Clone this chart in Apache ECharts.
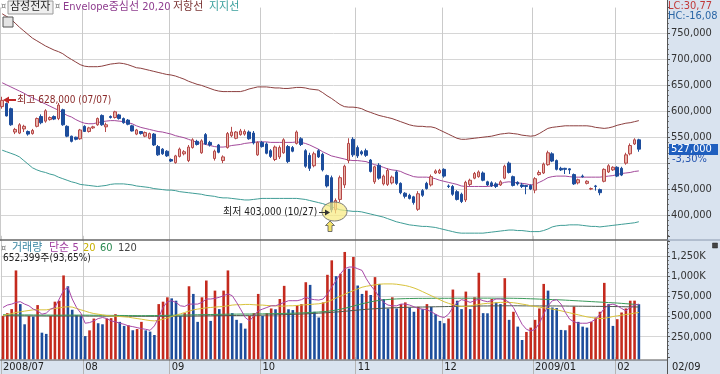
<!DOCTYPE html>
<html><head><meta charset="utf-8">
<script src="https://cdn.jsdelivr.net/npm/echarts@6.0.0/dist/echarts.min.js"></script>
<style>html,body{margin:0;padding:0;background:#fff}#c{width:720px;height:374px}</style>
</head><body><div id="c"></div>
<script>
// ---------- DATA ----------
const monthKeys = ['2008/07','2008/08','2008/09','2008/10','2008/11','2008/12','2009/01','2009/02'];
const tickLabels = ['2008/07','08','09','10','11','12','2009/01','02'];
const julDays = [7,8,9,10,11,14,15,16,17,18,21,22,23,24,25,28,29,30,31];
const augDays = [1,4,5,6,7,8,11,12,13,14,18,19,20,21,22,25,26,27,28,29];
const sepDays = [1,2,3,4,5,8,9,10,11,12,16,17,18,19,22,23,24,25,26,29,30];
const octDays = [1,2,6,7,8,9,10,13,14,15,16,17,20,21,22,23,24,27,28,29,30,31];
const novDays = [3,4,5,6,7,10,11,12,13,14,17,18,19,20,21,24,25,26,27,28];
const decDays = [1,2,3,4,5,8,9,10,11,12,15,16,17,18,19,22,23,24,26,29,30];
const janDays = [2,5,6,7,8,9,12,13,14,15,16,19,20,21,22,23,28,29,30];
const febDays = [2,3,4,5,6,9];
const emptySlots = 6;

// prices in thousand won
const openK = [609,615,605,560,558,566,561,557,571,590,581,584,590,586,603,571,552,550,547,
571,561,568,574,592,570,590,588,593,586,583,572,556,561,552,548,556,532,527,523,
507,501,513,518,505,530,542,520,555,540,509,535,505,530,553,548,555,556,560,558,516,
540,537,524,507,512,520,532,530,538,547,524,515,495,524,517,476,472,410,430,458,505,546,
530,522,524,506,464,496,460,459,462,483,461,442,438,435,411,447,461,458,481,481,
488,456,455,445,440,429,459,471,474,481,464,462,460,458,471,500,474,463,458,457,457,
448,478,481,497,518,505,490,490,489,478,462,475,461,450,456,449,465,483,487,
492,490,500,518,537,545];
const closeK = [621,591,574,565,574,571,556,563,586,578,601,588,585,612,574,552,542,546,564,
561,568,570,586,574,574,588,599,586,578,575,562,564,557,559,557,535,516,518,514,
504,514,527,522,531,545,536,543,537,535,523,521,512,557,560,560,562,561,547,539,540,
532,519,513,531,530,545,503,523,560,536,494,490,518,512,487,456,410,428,472,494,538,516,
514,518,515,484,493,471,475,486,473,461,443,436,432,424,441,438,451,474,485,486,
475,455,440,430,426,463,467,480,483,467,458,456,455,464,494,482,457,460,455,455,450,
470,482,498,520,504,488,487,488,487,460,468,474,465,451,455,443,488,495,492,
475,477,516,534,545,527];
const highK = [628,617,607,568,577,574,563,566,588,594,604,590,592,616,605,573,553,551,566,
573,570,572,588,594,578,592,601,595,588,585,574,566,562,561,559,558,535,529,525,
509,516,530,525,535,548,545,546,558,543,526,537,515,560,570,562,566,565,563,562,542,
543,540,527,534,534,548,535,533,563,550,527,520,522,527,520,478,476,432,476,497,548,550,
534,525,528,508,495,500,478,490,476,486,463,444,441,437,446,450,464,478,488,489,
490,459,458,448,443,466,470,483,486,484,466,465,463,467,497,503,476,465,462,458,459,
473,486,501,524,521,507,493,491,490,480,470,478,467,453,458,451,490,498,494,
494,493,520,538,548,547];
const lowK = [605,590,572,556,556,560,553,555,569,575,578,582,583,583,572,550,540,544,545,
560,559,566,572,572,560,586,586,584,576,573,561,554,555,550,546,533,514,516,512,
502,499,511,515,502,528,534,518,535,532,505,519,500,528,550,546,553,553,545,536,514,
530,517,510,504,508,518,500,521,536,533,491,485,492,510,484,453,405,403,425,452,500,512,
510,515,512,482,460,468,457,456,459,458,440,432,430,420,408,435,449,455,479,479,
472,452,437,428,423,425,456,469,472,465,456,454,452,456,469,480,455,457,452,440,448,
442,476,479,495,502,486,485,479,479,458,459,472,459,448,447,438,463,481,485,
473,475,497,515,535,522];

// envelope lines (thousand won)
const envCenterK = [655,651,647,643,639,635,630,626,622,618,614,610,606,602,597,592,589,584,580,
577,576,576,578,580,581,582,582,581,580,578,576,572,569,567,565,563,561,560,558,
556,553,551,549,546,543,540,538,536,534,532,531,531,532,534,535,536,538,539,540,541,
541,541,540,540,540,540,540,540,541,540,538,535,531,527,522,518,514,512,510,508,506,505,
505,504,503,500,497,495,492,489,487,486,484,480,477,474,473,473,473,472,470,467,
465,463,461,459,456,455,455,455,455,455,455,456,458,460,463,464,463,462,461,460,458,
459,463,467,472,474,475,475,475,474,473,473,473,473,473,473,473,474,475,476,
478,480,481,482,484,485];
const envUpperK = [788,783,778,770,762,755,748,741,736,731,726,722,718,715,711,705,700,695,690,
687,686,686,686,687,689,691,692,693,692,690,687,684,683,681,679,677,675,673,671,
670,668,665,662,658,655,652,650,647,644,641,639,638,638,638,638,638,640,643,645,647,
647,647,646,645,645,644,644,645,646,646,645,643,642,641,636,630,625,619,613,609,608,608,
607,605,601,598,595,592,590,588,586,583,580,577,574,572,571,571,570,570,568,564,
560,556,552,548,546,546,547,548,549,550,551,552,554,556,557,558,557,556,554,553,552,
553,557,562,567,569,570,571,572,572,572,572,572,572,571,569,568,567,568,570,
573,575,577,578,580,582];
const envLowerK = [525,522,519,516,512,505,498,491,487,484,482,479,477,473,470,467,464,462,459,
458,457,456,455,456,457,459,460,460,460,459,458,456,455,454,453,451,450,449,448,
448,447,445,444,443,442,441,440,438,437,436,434,433,433,432,431,430,429,429,430,431,
432,432,432,432,432,432,432,432,432,431,430,428,426,424,422,419,416,413,410,409,408,407,
407,406,404,402,400,398,396,393,390,387,385,383,381,380,379,378,378,377,376,374,
372,370,368,366,365,365,365,365,365,365,366,367,368,369,370,371,371,370,370,369,368,
368,368,370,373,377,379,380,380,381,381,381,380,379,378,378,377,378,379,380,
381,382,383,384,385,387,389].slice(0,148);

// volume (thousand shares)
const volumeK = [508,542,592,1071,654,404,508,500,642,300,285,508,684,696,1009,875,584,517,510,
258,329,475,417,404,475,480,529,434,384,392,330,345,434,329,313,271,654,684,738,
725,696,508,542,875,780,434,738,946,446,821,592,821,1071,542,459,417,350,508,542,780,
508,542,600,590,717,880,590,580,642,654,925,892,559,488,675,1017,1196,1000,1030,1300,1092,1238,
884,780,821,767,988,904,717,600,738,600,654,675,612,559,621,592,654,621,529,446,
417,475,834,696,592,809,592,738,1042,542,540,717,675,654,975,459,559,375,209,309,363,
459,600,904,821,612,605,334,330,392,625,434,375,363,434,488,559,917,654,384,
467,550,600,696,696.635,652.399];
const volMa5K = [612,642,654,675,684,654,633,592,571,529,542,592,612,717,821,863,717,612,542,
417,425,446,475,488,475,446,434,417,404,384,375,363,350,342,329,384,488,612,684,
696,675,633,625,654,654,654,675,717,717,725,738,758,780,758,675,584,488,446,508,571,
592,612,633,633,654,675,696,696,696,709,738,717,709,704,717,780,863,946,1029,1092,1113,1113,
1092,1071,967,884,821,738,675,642,633,633,654,654,642,621,600,592,584,559,529,500,
488,529,612,675,709,696,675,696,717,696,684,696,717,717,709,675,612,508,404,342,321,
342,417,529,633,696,709,654,550,467,434,417,417,417,434,467,529,600,642,654,
633,600,571,612,642,654];
const volMa20K = [508,525,537,550,558,567,575,583,583,583,583,592,600,608,617,621,617,600,583,
567,550,537,529,521,512,508,504,500,496,492,483,475,467,458,450,446,454,467,483,
500,517,533,550,567,583,592,600,608,612,617,621,625,633,642,646,646,650,650,646,642,
642,637,633,633,629,629,633,633,637,642,646,650,654,658,667,683,704,729,754,775,800,821,
842,863,875,884,892,900,904,904,904,900,892,884,871,854,833,808,783,758,733,708,
683,663,646,633,625,625,633,642,650,658,663,667,671,675,675,675,671,663,654,646,633,
625,617,608,600,592,583,571,558,546,533,521,508,496,488,479,475,479,488,500,
508,517,525,533,542,550];
const volMa60K = [522,522,521,521,520,520,520,519,519,518,518,518,517,517,517,518,518,518,518,
517,517,516,516,515,515,514,514,513,513,512,512,511,511,511,512,512,513,514,515,
516,517,518,519,520,521,522,523,524,525,526,527,528,529,530,530,531,531,531,532,532,
533,534,535,536,537,539,540,541,543,545,547,550,553,556,560,565,572,580,590,602,615,630,
645,658,670,682,692,700,706,711,715,718,720,722,723,724,725,725,725,726,726,726,
726,726,727,727,727,727,727,727,728,728,728,728,727,727,727,727,726,725,724,722,720,
718,716,714,712,710,708,706,703,700,697,694,691,688,685,682,679,676,673,670,
667,663,659,655,651,647];
const volMa120K = [510,510,510,509,509,509,508,508,508,508,507,507,507,507,507,507,507,507,507,
507,506,506,506,505,505,505,505,504,504,504,504,503,503,503,503,503,503,503,504,
504,505,505,506,506,507,507,508,509,509,510,511,511,512,513,513,514,514,515,515,516,
517,518,519,520,522,523,525,527,529,531,533,536,539,542,545,548,552,556,560,565,570,575,
580,585,589,593,597,600,603,606,608,610,612,614,615,616,617,618,619,620,621,622,
623,624,625,626,627,628,628,629,630,631,631,632,632,632,633,633,633,633,632,632,631,
631,631,631,631,631,631,630,630,629,629,628,628,627,627,626,626,625,625,624,
623,622,621,620,619,618];

// ---------- BUILD ----------
const U = 1000;
const monthDays = [julDays,augDays,sepDays,octDays,novDays,decDays,janDays,febDays];
const categories = [];
const monthStartLabel = {};
monthDays.forEach((days, m) => {
  monthStartLabel[categories.length] = tickLabels[m];
  days.forEach(d => categories.push(monthKeys[m] + '/' + String(d).padStart(2,'0')));
});
for (let j = 0; j < emptySlots; j++) categories.push('_' + j);
const isMonthStart = (i) => Object.prototype.hasOwnProperty.call(monthStartLabel, i);

const candleData = openK.map((o,i) => [o*U, closeK[i]*U, lowK[i]*U, highK[i]*U]);
const toWon = a => a.map(v => v*U);
const volData = volumeK.map((v,i) => [i, v*U]);

const FONT = "'Liberation Sans Narrow','DejaVu Sans Condensed','Liberation Sans','Noto Sans CJK KR',sans-serif";
const PANEL = '#d9e3ef';
const RED = '#c42a1e', BLUE = '#1d4d9c';

function txt(text, x, y, fill, size, extra) {
  return Object.assign({type:'text', z:20, style:{text, x, y, fill, font: (size||11)+'px ' + FONT, align:'left', verticalAlign:'middle'}}, extra||{});
}

const graphic = [
  {type:'rect', z:-1, shape:{x:667,y:0,width:53,height:374}, style:{fill:PANEL}},
  {type:'rect', z:-1, shape:{x:0,y:360,width:667,height:14}, style:{fill:PANEL}},
  {type:'line', z:15, shape:{x1:667.5,y1:0,x2:667.5,y2:374}, style:{stroke:'#555',lineWidth:1}},
  {type:'line', z:15, shape:{x1:0,y1:240,x2:667,y2:240}, style:{stroke:'#666',lineWidth:1.5}},
  {type:'line', z:15, shape:{x1:667,y1:240,x2:720,y2:240}, style:{stroke:'#8a98ae',lineWidth:1}},
  {type:'line', z:15, shape:{x1:0,y1:360,x2:667,y2:360}, style:{stroke:'#555',lineWidth:1}},
  // top legend
  txt('¤', 1, 7, '#777', 9),
  {type:'rect', z:19, shape:{x:8,y:1,width:45,height:13}, style:{fill:'#efefef',stroke:'#9a9a9a',lineWidth:1}},
  txt('삼성전자', 10, 7.5, '#222', 11),
  txt('¤', 55, 7, '#777', 9),
  txt('Envelope중심선 20,20', 63, 7.5, '#8e3c8e', 11),
  txt('저항선', 173, 7.5, '#7b3535', 11),
  txt('지지선', 209, 7.5, '#3a9f9c', 11),
  {type:'rect', z:19, shape:{x:3,y:17,width:10,height:10}, style:{fill:'#e4e4e4',stroke:'#555',lineWidth:1}},
  // right info
  txt('LC:30,77', 668, 6, '#c03a3a', 11),
  txt('HC:-16,08', 668, 16, '#2a66a6', 11),
  {type:'rect', z:19, shape:{x:669,y:144,width:49,height:11}, style:{fill:'#1f5fbf'}},
  txt('527,000', 671, 149.5, '#ffffff', 11),
  txt('-3,30%', 672, 159, '#2656b0', 11),
  // annotations
  {type:'polygon', z:20, shape:{points:[[3,100],[9,96.5],[9,99],[16,99],[16,101],[9,101],[9,103.5]]}, style:{fill:'#c02828'}},
  txt('최고 628,000 (07/07)', 17, 100.5, '#8a2a2a', 10),
  txt('최저 403,000 (10/27)', 223, 212.5, '#222', 10),
  {type:'ellipse', z:18, shape:{cx:334.5,cy:211.5,rx:12.5,ry:9.5}, style:{fill:'rgba(248,236,130,0.72)',stroke:'#777',lineWidth:1}},
  {type:'line', z:20, shape:{x1:319,y1:212.5,x2:325,y2:212.5}, style:{stroke:'#333',lineWidth:1}},
  {type:'polygon', z:20, shape:{points:[[330,212.5],[325,209.5],[325,215.5]]}, style:{fill:'#333'}},
  {type:'polygon', z:20, shape:{points:[[330,221],[334.5,225.5],[332,225.5],[332,231.5],[328,231.5],[328,225.5],[325.5,225.5]]}, style:{fill:'#f2e26a',stroke:'#555',lineWidth:0.8}},
  // volume legend
  txt('¤', 1, 248.5, '#777', 9),
  txt('거래량', 12, 248.5, '#3a86a2', 11),
  txt('단순 5', 49, 248.5, '#a040a0', 11),
  txt('20', 83, 248.5, '#c8b000', 11),
  txt('60', 100, 248.5, '#2a8a50', 11),
  txt('120', 118, 248.5, '#444', 11),
  txt('652,399주(93,65%)', 3, 258.5, '#222', 10),
  {type:'rect', z:19, shape:{x:712.5,y:243,width:5,height:5}, style:{fill:'#444',stroke:'#222',lineWidth:0.5}},
  txt('02/09', 672, 367.5, '#222', 11)
];

const yLabelStyle = {color:'#333', fontSize:11, fontFamily:FONT, margin:4, showMinLabel:false, showMaxLabel:false};

const option = {
  animation:false,
  backgroundColor:'#ffffff',
  grid:[
    {left:0, right:53, top:7.57, height:233.36},
    {left:0, right:53, top:235.8, height:121.1}
  ],
  xAxis:[
    {type:'category', gridIndex:0, data:categories, boundaryGap:true,
     axisLine:{show:false}, axisTick:{show:false}, axisLabel:{show:false},
     splitLine:{show:true, interval:(i)=>isMonthStart(i), lineStyle:{color:'#cacaca',width:1}}},
    {type:'category', gridIndex:1, data:categories, boundaryGap:true,
     axisLine:{show:false},
     axisTick:{show:true, interval:(i)=>isMonthStart(i), length:18, lineStyle:{color:'#b4b4b4'}},
     axisLabel:{show:true, interval:(i)=>isMonthStart(i), formatter:(v,i)=>monthStartLabel[i]||'', align:'left', margin:5, color:'#222', fontSize:11, fontFamily:FONT},
     splitLine:{show:true, interval:(i)=>isMonthStart(i), lineStyle:{color:'#cacaca',width:1}}}
  ],
  yAxis:[
    {type:'value', gridIndex:0, position:'right', min:350000, max:800000, interval:50000,
     axisLine:{show:true, lineStyle:{color:'#555'}},
     axisTick:{show:true, length:3, lineStyle:{color:'#555'}},
     minorTick:{show:true, splitNumber:5, length:2, lineStyle:{color:'#777'}},
     splitLine:{show:true, showMinLine:false, showMaxLine:false, lineStyle:{color:'#d6d6d6'}},
     axisLabel:Object.assign({}, yLabelStyle, {formatter:(v)=> v===500000 ? '' : v.toLocaleString('en-US')})},
    {type:'value', gridIndex:1, position:'right', min:0, max:1500000, interval:250000,
     axisLine:{show:true, lineStyle:{color:'#555'}},
     axisTick:{show:true, length:3, lineStyle:{color:'#555'}},
     minorTick:{show:true, splitNumber:5, length:2, lineStyle:{color:'#777'}},
     splitLine:{show:true, showMinLine:false, showMaxLine:false, lineStyle:{color:'#d6d6d6'}},
     axisLabel:Object.assign({}, yLabelStyle, {formatter:(v)=> v>=1000000 ? (v/1000).toLocaleString('en-US')+'K' : v.toLocaleString('en-US')})}
  ],
  series:[
    {name:'저항선', type:'line', xAxisIndex:0, yAxisIndex:0, data:toWon(envUpperK), showSymbol:false, lineStyle:{color:'#8c3f3f',width:1}, z:2},
    {name:'Envelope중심선', type:'line', xAxisIndex:0, yAxisIndex:0, data:toWon(envCenterK), showSymbol:false, lineStyle:{color:'#a34a9b',width:1}, z:2},
    {name:'지지선', type:'line', xAxisIndex:0, yAxisIndex:0, data:toWon(envLowerK), showSymbol:false, lineStyle:{color:'#3f9d96',width:1}, z:2},
    {name:'삼성전자', type:'candlestick', xAxisIndex:0, yAxisIndex:0, data:candleData, barWidth:3, z:3,
     itemStyle:{color:'#e9b2a8', color0:BLUE, borderColor:'#b54848', borderColor0:BLUE, borderWidth:1}},
    {name:'거래량', type:'custom', xAxisIndex:1, yAxisIndex:1, data:volData, z:2,
     renderItem:(params, api) => {
       const i = api.value(0), v = api.value(1);
       const top = api.coord([i, v]);
       const cs = params.coordSys;
       const base = cs.y + cs.height + 2.5;
       const w = 2.6;
       const up = i === 0 || volumeK[i] >= volumeK[i-1];
       return {type:'rect', shape:{x:top[0]-w/2, y:top[1], width:w, height:base-top[1]}, style:{fill: up ? RED : BLUE}};
     }},
    {name:'120', type:'line', xAxisIndex:1, yAxisIndex:1, data:toWon(volMa120K), showSymbol:false, lineStyle:{color:'#4d5a4d',width:1}, z:4},
    {name:'60', type:'line', xAxisIndex:1, yAxisIndex:1, data:toWon(volMa60K), showSymbol:false, lineStyle:{color:'#3a9a5a',width:1}, z:4},
    {name:'20', type:'line', xAxisIndex:1, yAxisIndex:1, data:toWon(volMa20K), showSymbol:false, lineStyle:{color:'#d8c23a',width:1}, z:4},
    {name:'단순 5', type:'line', xAxisIndex:1, yAxisIndex:1, data:toWon(volMa5K), showSymbol:false, lineStyle:{color:'#a848a8',width:1}, z:4}
  ],
  graphic: graphic
};
const chart = echarts.init(document.getElementById('c'), null, {renderer:'canvas'});
chart.setOption(option);
</script>
</body></html>
